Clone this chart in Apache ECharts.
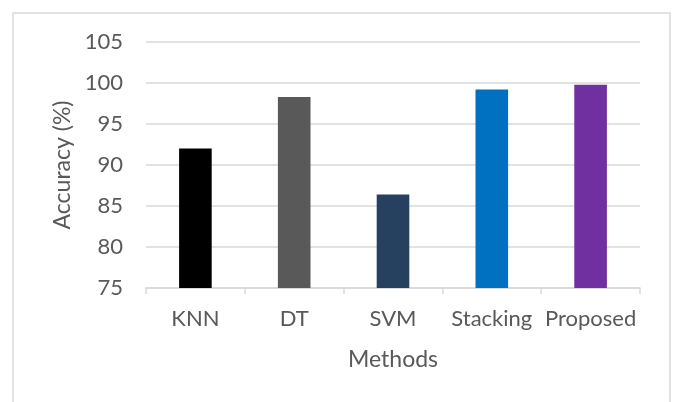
<!DOCTYPE html>
<html>
<head>
<meta charset="utf-8">
<script src="https://cdn.jsdelivr.net/npm/echarts@6/dist/echarts.min.js"></script>
<style>html,body{margin:0;padding:0;background:#fff;}#c{width:673px;height:402px;}</style>
</head>
<body>
<div id="c"></div>
<script>
const categories = ['KNN', 'DT', 'SVM', 'Stacking', 'Proposed'];
const accuracy = [92.0, 98.3, 86.4, 99.2, 99.8];
const barColors = ['#000000', '#595959', '#264060', '#0070c0', '#7030a0'];
const yTicks = { min: 75, max: 105, interval: 5 };

const chart = echarts.init(document.getElementById('c'));
const font = 'Lato';
chart.setOption({
  animation: false,
  backgroundColor: '#fff',
  graphic: [{
    type: 'rect', shape: { x: 13, y: 13, width: 657, height: 400 },
    style: { fill: 'none', stroke: '#d9d9d9', lineWidth: 1.5 }, silent: true, z: -1
  }],
  grid: { left: 146, right: 33, top: 42, bottom: 114 },
  xAxis: {
    type: 'category', data: categories,
    name: 'Methods', nameLocation: 'middle', nameGap: 60,
    nameTextStyle: { fontFamily: font, fontSize: 23, color: '#595959' },
    axisLine: { lineStyle: { color: '#d9d9d9', width: 1.5 } },
    axisTick: { show: true, length: 6, lineStyle: { color: '#d9d9d9', width: 1.5 } },
    axisLabel: { fontFamily: font, fontSize: 22, color: '#595959', margin: 20, interval: 0 }
  },
  yAxis: {
    type: 'value', min: yTicks.min, max: yTicks.max, interval: yTicks.interval,
    name: 'Accuracy (%)', nameLocation: 'middle', nameGap: 71,
    nameTextStyle: { fontFamily: font, fontSize: 23, color: '#595959' },
    axisLine: { show: false }, axisTick: { show: false },
    axisLabel: { fontFamily: font, fontSize: 22, color: '#595959', margin: 23 },
    splitLine: { lineStyle: { color: '#d9d9d9', width: 1.5 } }
  },
  series: [{
    type: 'bar', barWidth: '33%',
    data: accuracy.map((v, i) => ({ value: v, itemStyle: { color: barColors[i] } }))
  }]
});
</script>
</body>
</html>
